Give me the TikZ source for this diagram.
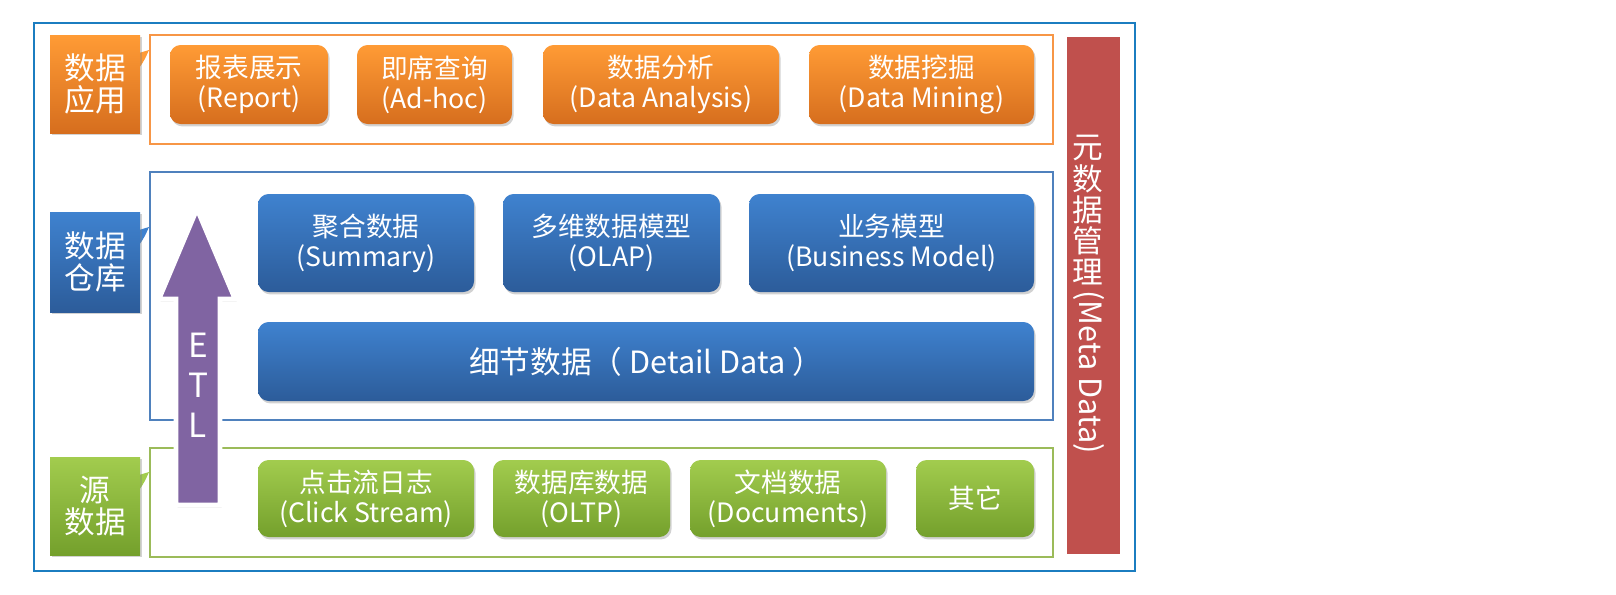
\documentclass[tikz,border=0pt]{standalone}
\usepackage{fontspec}
\setmainfont{Noto Sans CJK SC}
\usetikzlibrary{shadows}
\definecolor{oTop}{HTML}{FF9B35}
\definecolor{oBot}{HTML}{D66E1E}
\definecolor{oFrame}{HTML}{F79646}
\definecolor{bTop}{HTML}{3F82CF}
\definecolor{bBot}{HTML}{2C5C9A}
\definecolor{bFrame}{HTML}{4F81BD}
\definecolor{gTop}{HTML}{A2CC4E}
\definecolor{gBot}{HTML}{74A02C}
\definecolor{gFrame}{HTML}{9BBB59}
\definecolor{etlc}{HTML}{8064A2}
\definecolor{metac}{HTML}{C0504D}
\definecolor{outerc}{HTML}{1B7DC0}
% \pbox{name}{style}{x1}{y1}{x2}{y2}{text}  (pixel coordinates)
\newcommand\pbox[7]{%
  \node[#2, minimum width={(#5-#3)*0.75pt}, minimum height={(#6-#4)*0.75pt}]
    (#1) at ({(#3+#5)/2},{(#4+#6)/2}) {#7};}
\begin{document}
\begin{tikzpicture}[x=0.75pt,y=-0.75pt,
  shadowed/.style={drop shadow={opacity=0.35, shadow xshift=1.2pt, shadow yshift=-1.8pt}},
  bx/.style={rounded corners=8pt, inner sep=0pt, text=white, align=center,
    font=\fontsize{20}{22.5}\selectfont, shadowed},
  obox/.style={bx, top color=oTop, bottom color=oBot},
  bbox/.style={bx, top color=bTop, bottom color=bBot},
  gbox/.style={bx, top color=gTop, bottom color=gBot},
  frm/.style={line width=2.2pt, inner sep=0pt},
  lab/.style={inner sep=0pt, text=white, align=center,
    font=\fontsize{23}{24}\selectfont, shadowed},
  wtxt/.style={text=white, inner sep=0pt},
]
\useasboundingbox (0,0) rectangle (1616,594);
\fill[white] (0,0) rectangle (1616,594);

% outer frame
\pbox{outer}{draw=outerc, line width=1.1pt, inner sep=0pt}{34}{23}{1135}{571}{}

% layer frames
\pbox{fapp}{frm, draw=oFrame}{150}{35}{1053}{144}{}
\pbox{fdw}{frm, draw=bFrame}{150}{172}{1053}{420}{}
\pbox{fsrc}{frm, draw=gFrame}{150}{448}{1053}{557}{}

% layer labels with callout tails
\fill[oTop] (139,53) -- (149,50) .. controls (146,57) and (143,63) .. (139,68) -- cycle;
\pbox{lapp}{lab, top color=oTop, bottom color=oBot}{50}{35}{140}{133}{数据\\应用}
\fill[bTop] (139,230) -- (149,227) .. controls (146,234) and (143,240) .. (139,245) -- cycle;
\pbox{ldw}{lab, top color=bTop, bottom color=bBot}{50}{212}{140}{312}{数据\\仓库}
\fill[gTop] (139,475) -- (149,472) .. controls (146,479) and (143,485) .. (139,490) -- cycle;
\pbox{lsrc}{lab, top color=gTop, bottom color=gBot}{50}{457}{140}{555}{源\\数据}

% application boxes
\pbox{a1}{obox}{170}{45}{328}{124}{报表展示\\(Report)}
\pbox{a2}{obox}{357}{45}{512}{124}{即席查询\\(Ad-hoc)}
\pbox{a3}{obox}{543}{45}{779}{124}{数据分析\\(Data Analysis)}
\pbox{a4}{obox}{809}{45}{1034}{124}{数据挖掘\\(Data Mining)}

% warehouse boxes
\pbox{w1}{bbox}{258}{194}{474}{292}{聚合数据\\(Summary)}
\pbox{w2}{bbox}{503}{194}{720}{292}{多维数据模型\\(OLAP)}
\pbox{w3}{bbox}{749}{194}{1034}{292}{业务模型\\(Business Model)}
\pbox{w4}{bbox, font=\fontsize{23}{26}\selectfont}{258}{322}{1034}{401}{细节数据（ Detail Data ）}

% source boxes
\pbox{s1}{gbox}{258}{460}{474}{537}{点击流日志\\(Click Stream)}
\pbox{s2}{gbox}{493}{460}{670}{537}{数据库数据\\(OLTP)}
\pbox{s3}{gbox}{690}{460}{886}{537}{文档数据\\(Documents)}
\pbox{s4}{gbox}{916}{460}{1034}{537}{其它}

% ETL arrow
\path[fill=etlc, draw=white, line width=3.5pt, line join=miter, shadowed]
  (197,209) -- (235,299) -- (220,299) -- (220,505) -- (176,505) -- (176,299) -- (159,299) -- cycle;
\node[wtxt, font=\fontsize{25}{25}\selectfont] (e1) at (198,345) {E};
\node[wtxt, font=\fontsize{25}{25}\selectfont] (e2) at (198,385) {T};
\node[wtxt, font=\fontsize{25}{25}\selectfont] (e3) at (198,425) {L};

% metadata bar
\pbox{meta}{fill=metac, draw=white, line width=3pt, inner sep=0pt, shadowed}{1065}{35}{1122}{556}{}
\foreach \c [count=\i] in {元,数,据,管,理}
  \node[wtxt, font=\fontsize{23}{23}\selectfont] (m\i) at (1088,{148+30.9*(\i-1)}) {\c};
\node[wtxt, font=\fontsize{23}{23}\selectfont, rotate=-90] (m6) at (1089,372) {(Meta Data)};
\end{tikzpicture}
\end{document}
